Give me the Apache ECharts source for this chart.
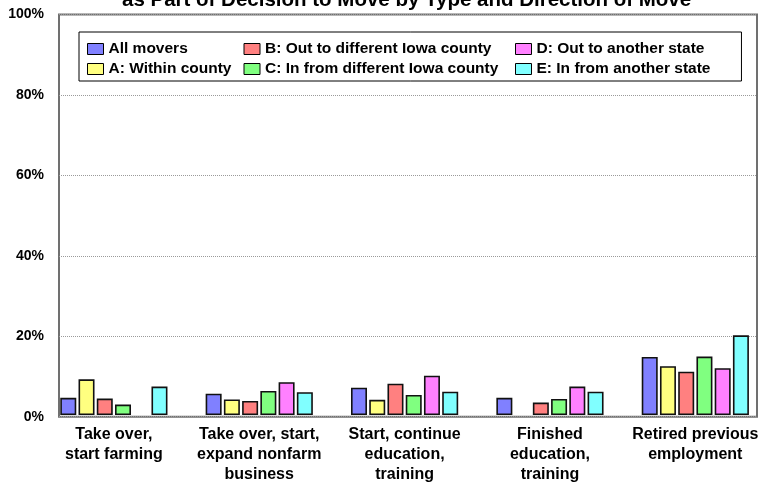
<!DOCTYPE html>
<html>
<head>
<meta charset="utf-8">
<script src="https://cdn.jsdelivr.net/npm/echarts@6/dist/echarts.min.js"></script>
<style>
  html, body { margin: 0; padding: 0; background: #fff; }
  #chart { width: 768px; height: 485px; }
</style>
</head>
<body>
<div id="chart"></div>
<script>
const titleText = 'as Part of Decision to Move by Type and Direction of Move';
const categories = [
  'Take over,\nstart farming',
  'Take over, start,\nexpand nonfarm\nbusiness',
  'Start, continue\neducation,\ntraining',
  'Finished\neducation,\ntraining',
  'Retired previous\nemployment'
];
const seriesNames = [
  'All movers',
  'A: Within county',
  'B: Out to different Iowa county',
  'C: In from different Iowa county',
  'D: Out to another state',
  'E: In from another state'
];
const allMovers    = [4.3, 5.3, 6.8, 4.3, 14.5];
const withinCounty = [8.9, 3.9, 3.8, '-', 12.2];
const outIowa      = [4.1, 3.5, 7.8, 3.1, 10.8];
const inIowa       = [2.6, 6.0, 5.0, 4.0, 14.6];
const outState     = ['-', 8.2, 9.8, 7.1, 11.7];
const inState      = [7.1, 5.7, 5.8, 5.8, 19.9];
const yTickValues  = [0, 20, 40, 60, 80, 100];
const yTickLabels  = ['0%', '20%', '40%', '60%', '80%', '100%'];

const seriesData = [allMovers, withinCounty, outIowa, inIowa, outState, inState];
const colors = ['#8080ff', '#ffff80', '#ff8080', '#80ff80', '#ff80ff', '#80ffff'];
const colWidths = [131, 131, 246, 246, null, null];

const chart = echarts.init(document.getElementById('chart'), null, { renderer: 'canvas' });
const font = '"Liberation Sans", Arial, sans-serif';

const option = {
  animation: false,
  backgroundColor: '#ffffff',
  textStyle: { fontFamily: font },
  title: {
    text: titleText,
    left: 122,
    top: -9.5,
    padding: 0,
    textStyle: { fontFamily: font, fontSize: 20.5, fontWeight: 'bold', color: '#000', lineHeight: 20 }
  },
  legend: {
    orient: 'vertical',
    left: 79,
    top: 32,
    height: 50,
    padding: [9, 31, 4, 8],
    itemGap: 4,
    itemWidth: 16,
    itemHeight: 11,
    borderColor: '#000',
    borderWidth: 1,
    backgroundColor: '#fff',
    selectedMode: false,
    icon: 'rect',
    itemStyle: { borderColor: '#000', borderWidth: 1 },
    textStyle: { fontFamily: font, fontSize: 15.5, fontWeight: 'bold', color: '#000', lineHeight: 16 },
    data: seriesNames.map((n, i) => {
      const d = { name: n };
      if (colWidths[i]) d.textStyle = { width: colWidths[i] };
      return d;
    })
  },
  grid: [
    { left: 59, right: 11, top: 14.5, bottom: 68.3, show: true, borderColor: '#707070', borderWidth: 2, backgroundColor: 'transparent', containLabel: false },
    { left: 41.2, width: 733, top: 14.5, bottom: 68.3, containLabel: false }
  ],
  xAxis: [
    { type: 'category', gridIndex: 0, data: categories, show: false },
    {
      type: 'category', gridIndex: 1, data: categories,
      axisLine: { show: false }, axisTick: { show: false },
      axisLabel: { interval: 0, margin: 10, fontFamily: font, fontSize: 16, fontWeight: 'bold', color: '#000', lineHeight: 20 }
    }
  ],
  yAxis: [
    {
      type: 'value', gridIndex: 0, min: 0, max: 100, interval: 20,
      axisLine: { show: false }, axisTick: { show: false },
      axisLabel: {
        margin: 15, fontFamily: font, fontSize: 14, fontWeight: 'bold', color: '#000',
        formatter: v => yTickLabels[yTickValues.indexOf(v)]
      },
      splitLine: { show: true, lineStyle: { color: '#9a9a9a', type: 'dotted', width: 1 } }
    },
    { type: 'value', gridIndex: 1, min: 0, max: 100, interval: 20, show: false, splitLine: { show: false } }
  ],
  series: seriesNames.map((n, i) => ({
    name: n,
    type: 'bar',
    xAxisIndex: 1,
    yAxisIndex: 1,
    data: seriesData[i],
    barWidth: 16,
    barGap: '14%',
    itemStyle: { color: colors[i], borderColor: '#111', borderWidth: 1.6 }
  }))
};
chart.setOption(option);
</script>
</body>
</html>
